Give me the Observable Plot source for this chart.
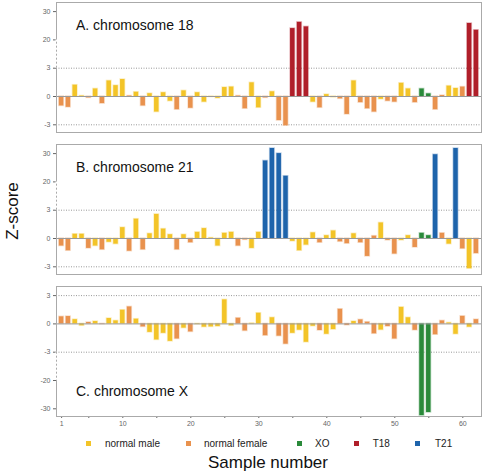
<!DOCTYPE html>
<html><head><meta charset="utf-8">
<script src="https://cdn.jsdelivr.net/npm/d3@7"></script>
<script src="https://cdn.jsdelivr.net/npm/@observablehq/plot@0.6"></script>
<style>
body{margin:0;background:#fff;font-family:"Liberation Sans",Arial,sans-serif;}
#wrap{position:relative;width:484px;height:476px;overflow:hidden;}
.panel{position:absolute;left:0;}
.title{position:absolute;font-size:14px;line-height:1;color:#111;white-space:nowrap;}
.leg{position:absolute;font-size:10px;line-height:1;color:#222;white-space:nowrap;}
.sw{position:absolute;width:5px;height:5px;}
</style></head><body><div id="wrap"></div>
<script>
// sample numbers 1..62
const samples = d3.range(1, 63);
// sex of each sample (M / F), X = XO
const sex = ["F","F","M","M","F","M","F","M","M","M","F","M","F","M","M","M","M","F","M","F",
             "M","M","M","M","M","M","F","F","M","M","F","M","F","F","M","M","M","M","F","M",
             "M","F","F","M","F","F","F","M","F","F","M","M","F","X","X","F","F","M","M","F",
             "M","F"];
const t18Samples = [35, 36, 37, 61, 62];
const t21Samples = [31, 32, 33, 34, 56, 59];
const xoSamples = [54, 55];
// Z-scores chromosome 18
const zA = [-1.0,-1.15,1.2,0.05,-0.15,0.8,-0.75,1.65,1.15,1.8,0.05,0.45,-1.0,0.3,-1.65,0.4,-0.5,-1.4,0.6,-1.25,
            0.4,-0.6,-0.05,-0.2,0.95,1.0,0.05,-1.3,1.45,-1.2,-0.15,0.5,-2.55,-3.1,24.0,26.2,24.6,-0.6,-1.2,0.2,
            -0.1,-0.25,-1.9,1.65,-0.65,-1.3,-1.65,-0.3,-0.5,-0.6,1.4,0.8,-0.65,0.8,0.28,-1.4,0.1,1.1,0.85,1.0,
            25.8,23.4];
// Z-scores chromosome 21
const zB = [-0.8,-1.3,0.45,0.45,-1.05,-0.8,-1.2,-0.4,-0.6,1.15,-1.35,2.05,-1.2,0.5,2.55,1.0,0.4,-1.2,0.4,-0.45,
            0.65,1.05,0.05,-0.8,0.55,0.65,-0.8,-0.15,-1.05,0.65,27.4,31.8,30.0,22.0,-0.3,-1.3,-0.7,0.6,-0.45,0.3,
            0.8,-0.35,-0.55,0.5,-0.45,-1.9,0.25,1.65,-0.2,-1.65,-0.2,0.3,-0.95,0.55,0.3,29.6,0.55,-0.6,31.8,-1.1,
            -3.2,-1.6];
// Z-scores chromosome X
const zC = [0.75,0.78,0.45,-0.2,0.15,0.25,-0.03,0.57,0.32,1.45,1.8,0.5,-0.32,-0.9,-1.7,-1.0,-1.85,-1.6,-0.45,-0.85,
            -0.05,-0.35,-0.32,-0.28,2.55,-0.2,0.6,-0.75,0.05,1.13,-1.25,0.65,-1.3,-2.15,-1.0,-0.67,-1.95,-0.25,-0.7,-1.1,
            -0.6,1.55,-0.15,0.25,0.43,0.18,-1.05,-0.65,-0.28,-1.6,1.75,0.65,-0.68,-32.4,-31.3,-1.15,0.32,0.1,-1.1,0.8,
            -0.35,0.45];
const categories = ["normal male", "normal female", "XO", "T18", "T21"];
const colors = ["#F3C428", "#E9924E", "#2A8A3A", "#B01F2A", "#1E64AB"];
const yTicksUp = [-3, 0, 3, 20, 30];
const yTicksDown = [-30, -20, -3, 0, 3];
const xTicks = [1, 5, 10, 15, 20, 25, 30, 35, 40, 45, 50, 55, 60];
const xLabels = [1, 10, 20, 30, 40, 50, 60];
const titles = ["A. chromosome 18", "B. chromosome 21", "C. chromosome X"];

function cat(s, key) {
  if (xoSamples.includes(s)) return "XO";
  if (key === "A" && t18Samples.includes(s)) return "T18";
  if (key === "B" && t21Samples.includes(s)) return "T21";
  return sex[s - 1] === "M" ? "normal male" : "normal female";
}
const font = '"Liberation Sans", Arial, sans-serif';
const xDom = [0.25, 62.75];

function panel(values, key, yDomain, brk, height, marginBottom, showX) {
  const data = samples.map((s, i) => ({s, v: values[i], c: cat(s, key)}));
  return Plot.plot({
    width: 484, height, marginLeft: 56, marginRight: 3, marginTop: 2, marginBottom,
    style: {fontFamily: font, fontSize: "7px", color: "#666", background: "transparent", overflow: "visible"},
    x: {type: "linear", domain: xDom, axis: showX ? "bottom" : null, ticks: xTicks,
        tickFormat: d => xLabels.includes(d) ? String(d) : "", tickSize: 2, tickPadding: 3, label: null},
    y: {type: "linear", domain: yDomain, range: [124.3, 96, 67.7, 39.4, 11.1], ticks: yDomain,
        tickFormat: d => String(d), tickSize: 3, tickPadding: 3, label: null},
    color: {domain: categories, range: colors},
    marks: [
      Plot.ruleY([-3, 3], {stroke: "#999", strokeDasharray: "1,1.5"}),
      Plot.rect(data, {x1: d => d.s - 0.33, x2: d => d.s + 0.33, y1: 0, y2: "v",
        fill: "c", stroke: "c", strokeOpacity: 0.3, strokeWidth: 1.5}),
      Plot.ruleY([0], {stroke: "#999"}),
      Plot.frame({stroke: "#aaa"}),
      Plot.ruleX([xDom[0]], {y1: brk[0], y2: brk[1], stroke: "white", strokeWidth: 2}),
      Plot.ruleX([xDom[0]], {y1: brk[0], y2: brk[1], stroke: "#aaa", strokeDasharray: "2,2"})
    ]
  });
}

const wrap = document.getElementById("wrap");
function place(el, top) { el.classList.add("panel"); el.style.top = top + "px"; wrap.appendChild(el); }
place(panel(zA, "A", yTicksUp, [3, 20], 134, 2, false), 0);
place(panel(zB, "B", yTicksUp, [3, 20], 134, 2, false), 142);
place(panel(zC, "C", yTicksDown, [-3, -20], 148, 16, true), 284);

const titleTops = [18, 160, 383.7];
titles.forEach((t, i) => {
  const d = document.createElement("div");
  d.className = "title"; d.textContent = t;
  d.style.left = "76px"; d.style.top = titleTops[i] + "px";
  wrap.appendChild(d);
});

// y-axis label
const yl = document.createElement("div");
yl.textContent = "Z-score";
Object.assign(yl.style, {position: "absolute", width: "100px", height: "20px", lineHeight: "20px",
  textAlign: "center", fontSize: "17px", color: "#111", left: (13 - 50) + "px", top: (211 - 10) + "px",
  transform: "rotate(-90deg)"});
wrap.appendChild(yl);

// x-axis label
const xl = document.createElement("div");
xl.textContent = "Sample number";
Object.assign(xl.style, {position: "absolute", width: "200px", textAlign: "center", fontSize: "17px",
  lineHeight: "1", color: "#111", left: (268 - 100) + "px", top: "454.3px"});
wrap.appendChild(xl);

// legend
const swX = [86, 186, 297, 354, 415];
const txX = [105, 204, 315, 372.7, 435];
categories.forEach((c, i) => {
  const s = document.createElement("div");
  s.className = "sw"; s.style.background = colors[i];
  s.style.left = swX[i] + "px"; s.style.top = "441px";
  wrap.appendChild(s);
  const t = document.createElement("div");
  t.className = "leg"; t.textContent = c;
  t.style.left = txX[i] + "px"; t.style.top = "439px";
  wrap.appendChild(t);
});
</script></body></html>
